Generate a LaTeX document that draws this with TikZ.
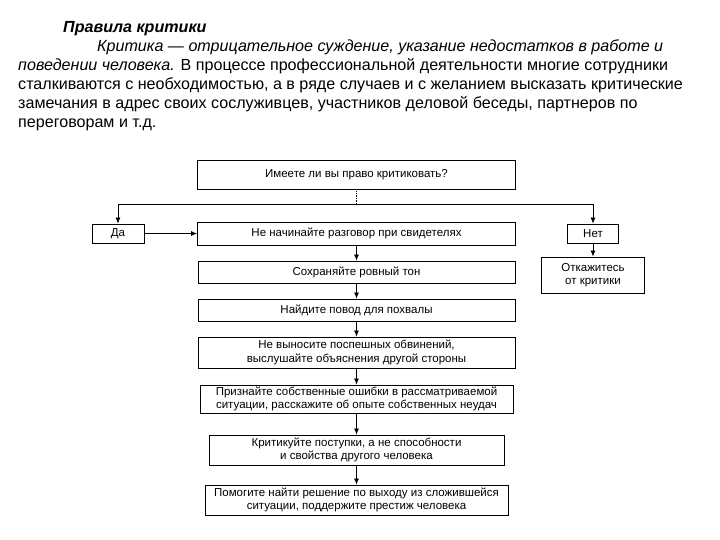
\documentclass[tikz,border=0pt]{standalone}
\usepackage{fontspec}
\setmainfont{Liberation Sans}
\usetikzlibrary{arrows.meta}
\usetikzlibrary{positioning}

\tikzset{
    rulebox/.style={draw, line width=0.9pt, inner sep=1pt, align=center,
        font=\fontsize{11.5}{13.5}\selectfont},
    textline/.style={anchor=base west, inner sep=0pt, font=\fontsize{16.1}{18}\selectfont},
    arr/.style={-{Latex[length=6pt, width=5pt]}, line width=0.7pt}
}

\begin{document}
\begin{tikzpicture}[x=1pt, y=1pt]
    \useasboundingbox (0, 0) rectangle (720, -540);

    \node [textline] (head) at (63, -33) {\bfseries\itshape Правила критики};
    \node [textline] (par1) at (97, -52) {\itshape Критика — отрицательное суждение, указание недостатков в работе и};
    \node [textline] (par2) at (18, -71) {{\itshape поведении человека.} В процессе профессиональной деятельности многие сотрудники};
    \node [textline] (par3) at (18, -90) {сталкиваются с необходимостью, а в ряде случаев и с желанием высказать критические};
    \node [textline] (par4) at (18, -109) {замечания в адрес своих сослуживцев, участников деловой беседы, партнеров по};
    \node [textline] (par5) at (18, -128) {переговорам и т.д.};

    \node [rulebox, minimum width=318pt, minimum height=29pt] (ask) at (356.5, -174.5) {Имеете ли вы право критиковать?};
    \node [rulebox, minimum width=52pt, minimum height=19pt] (yes) at (118, -233.5) {Да};
    \node [rulebox, minimum width=51pt, minimum height=19pt] (no) at (593, -233.5) {Нет};
    \node [rulebox, minimum width=103pt, minimum height=36pt] (refuse) at (593, -275) {Откажитесь\\от критики};

    \node [rulebox, minimum width=318pt, minimum height=23pt] (start) at (356.5, -233.5) {Не начинайте разговор при свидетелях};
    \node [rulebox, minimum width=317pt, minimum height=22pt] (tone) at (356.5, -272) {Сохраняйте ровный тон};
    \node [rulebox, minimum width=317pt, minimum height=22pt] (praise) at (356.5, -310) {Найдите повод для похвалы};
    \node [rulebox, minimum width=317pt, minimum height=31pt] (hasty) at (356.5, -352.5) {Не выносите поспешных обвинений,\\выслушайте объяснения другой стороны};
    \node [rulebox, minimum width=313pt, minimum height=28pt] (own) at (356.5, -399) {Признайте собственные ошибки в рассматриваемой\\ситуации, расскажите об опыте собственных неудач};
    \node [rulebox, minimum width=295pt, minimum height=30pt] (acts) at (356.5, -450) {Критикуйте поступки, а не способности\\и свойства другого человека};
    \node [rulebox, minimum width=303pt, minimum height=30pt] (help) at (356.5, -500) {Помогите найти решение по выходу из сложившейся\\ситуации, поддержите престиж человека};

    \coordinate (fork) at (356.5, -204);
    \draw [densely dotted, line width=0.7pt] (ask) -- (fork);
    \draw [arr] (fork) -| (yes);
    \draw [arr] (fork) -| (no);
    \draw [arr] (yes) -- (start);
    \draw [arr] (no) -- (refuse);

    \foreach \a/\b in {start/tone, tone/praise, praise/hasty, hasty/own, own/acts, acts/help}
        \draw [arr] (\a) -- (\b);
\end{tikzpicture}
\end{document}
